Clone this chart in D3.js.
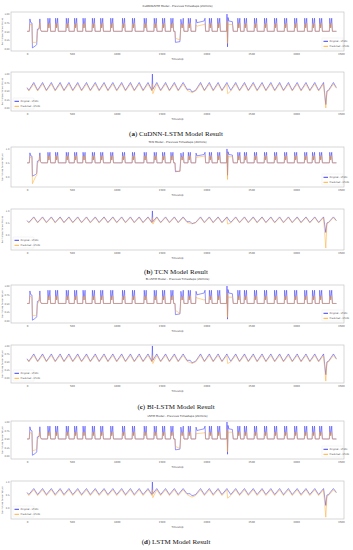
<!DOCTYPE html>
<html>
<head>
<meta charset="utf-8">
<script src="https://cdn.jsdelivr.net/npm/d3@7"></script>
<style>
  body { margin: 0; background: #fff; }
  svg { display: block; }
</style>
</head>
<body>
<svg id="chart" width="353" height="550"></svg>
<script>
// ---- data ----
var titles = ["CuDNNLSTM Model - Previous Timesteps (20mins)", "TCN Model - Previous Timesteps (20mins)",
              "Bi-LSTM Model - Previous Timesteps (20mins)", "LSTM Model - Previous Timesteps (20mins)"];
var captionTags = ["a", "b", "c", "d"];
var captionNames = ["CuDNN-LSTM Model Result", "TCN Model Result", "BI-LSTM Model Result", "LSTM Model Result"];
var legendNames = ["Original - LT101", "Predicted - LT101"];
var xTicks = [0, 500, 1000, 1500, 2000, 2500, 3000, 3500];
var yTicksFine = [0, 0.25, 0.5, 0.75, 1];
var yTicksCoarse = [0, 0.5, 1];

// upper panels: vertices of the sensor trace (one row per pump cycle)
var topSteps = [
  0, 25, 32, 40, 55, 60, 95, 108, 115, 135, 143, 150, 160,
  229, 233, 243, 255, 263,
  315, 319, 329, 341, 349,
  434, 438, 448, 460, 468,
  527, 531, 541, 553, 561,
  621, 625, 635, 647, 655,
  725, 729, 739, 751, 759,
  818, 822, 832, 844, 852,
  930, 934, 944, 956, 964,
  1061, 1065, 1075, 1087, 1095,
  1172, 1176, 1186, 1198, 1206,
  1303, 1307, 1317, 1329, 1337,
  1415, 1419, 1429, 1441, 1449,
  1508, 1512, 1522, 1534, 1542,
  1601, 1605, 1615, 1627, 1635,
  1650, 1655, 1705, 1712, 1716, 1730, 1742, 1750,
  1795, 1799, 1809, 1821, 1829,
  1880, 1885, 1895, 1975, 1985, 1992,
  2030, 2034, 2044, 2056, 2064,
  2123, 2127, 2137, 2149, 2157,
  2225, 2230, 2236, 2242, 2250, 2290, 2300,
  2347, 2351, 2361, 2373, 2381,
  2421, 2425, 2435, 2447, 2455,
  2533, 2537, 2547, 2559, 2567,
  2645, 2649, 2659, 2671, 2679,
  2757, 2761, 2771, 2783, 2791,
  2869, 2873, 2883, 2895, 2903,
  2981, 2985, 2995, 3007, 3015,
  3093, 3097, 3107, 3119, 3127,
  3180, 3184, 3194, 3206, 3214,
  3260, 3264, 3274, 3286, 3294,
  3372, 3376, 3386, 3398, 3406,
  3451
];
var topOriginal = [
  .50, .50, .86, .76, .74, .02, .08, .12, .56, .58, .86, .55, .50,
  .50, .88, .60, .88, .50,
  .50, .88, .60, .88, .50,
  .50, .88, .60, .88, .50,
  .50, .88, .60, .88, .50,
  .50, .88, .60, .88, .50,
  .50, .88, .60, .88, .50,
  .50, .88, .60, .88, .50,
  .50, .88, .60, .88, .50,
  .50, .88, .60, .88, .50,
  .50, .88, .60, .88, .50,
  .50, .88, .60, .88, .50,
  .50, .88, .60, .88, .50,
  .50, .88, .60, .88, .50,
  .50, .88, .60, .88, .50,
  .50, .18, .20, .55, .85, .60, .88, .50,
  .50, .88, .60, .88, .50,
  .50, .85, .75, .80, .88, .50,
  .50, .88, .60, .88, .50,
  .50, .88, .60, .88, .50,
  .50, 1.0, .05, .90, .80, .78, .50,
  .50, .88, .60, .88, .50,
  .50, .88, .60, .88, .50,
  .50, .88, .60, .88, .50,
  .50, .88, .60, .88, .50,
  .50, .88, .60, .88, .50,
  .50, .88, .60, .88, .50,
  .50, .88, .60, .88, .50,
  .50, .88, .60, .88, .50,
  .50, .88, .60, .88, .50,
  .50, .88, .60, .88, .50,
  .50, .88, .60, .88, .50,
  .50
];
var topCudnn = [
  .50, .50, .70, .70, .70, .18, .18, .20, .50, .58, .75, .55, .50,
  .50, .72, .60, .74, .50,
  .50, .72, .60, .74, .50,
  .50, .72, .60, .74, .50,
  .50, .72, .60, .74, .50,
  .50, .72, .60, .74, .50,
  .50, .72, .60, .74, .50,
  .50, .72, .60, .74, .50,
  .50, .72, .60, .74, .50,
  .50, .72, .60, .74, .50,
  .50, .72, .60, .74, .50,
  .50, .72, .60, .74, .50,
  .50, .72, .60, .74, .50,
  .50, .72, .60, .74, .50,
  .50, .72, .60, .74, .50,
  .50, .30, .25, .45, .70, .60, .72, .50,
  .50, .72, .60, .74, .50,
  .50, .68, .65, .70, .72, .50,
  .50, .72, .60, .74, .50,
  .50, .72, .60, .74, .50,
  .50, .80, .15, .72, .70, .70, .50,
  .50, .72, .60, .74, .50,
  .50, .72, .60, .74, .50,
  .50, .72, .60, .74, .50,
  .50, .72, .60, .74, .50,
  .50, .72, .60, .74, .50,
  .50, .72, .60, .74, .50,
  .50, .72, .60, .74, .50,
  .50, .72, .60, .74, .50,
  .50, .72, .60, .74, .50,
  .50, .72, .60, .74, .50,
  .50, .72, .60, .74, .50,
  .50
];
var topTcn = [
  .50, .50, .72, .70, .68, -.25, .00, .05, .48, .56, .76, .55, .50,
  .50, .75, .60, .76, .50,
  .50, .75, .60, .76, .50,
  .50, .75, .60, .76, .50,
  .50, .75, .60, .76, .50,
  .50, .75, .60, .76, .50,
  .50, .75, .60, .76, .50,
  .50, .75, .60, .76, .50,
  .50, .75, .60, .76, .50,
  .50, .75, .60, .76, .50,
  .50, .75, .60, .76, .50,
  .50, .75, .60, .76, .50,
  .50, .75, .60, .76, .50,
  .50, .75, .60, .76, .50,
  .50, .75, .60, .76, .50,
  .50, .22, .18, .45, .72, .60, .74, .50,
  .50, .75, .60, .76, .50,
  .50, .70, .70, .74, .76, .50,
  .50, .75, .60, .76, .50,
  .50, .75, .60, .76, .50,
  .50, .85, -.10, .74, .72, .72, .50,
  .50, .75, .60, .76, .50,
  .50, .75, .60, .76, .50,
  .50, .75, .60, .76, .50,
  .50, .75, .60, .76, .50,
  .50, .75, .60, .76, .50,
  .50, .75, .60, .76, .50,
  .50, .75, .60, .76, .50,
  .50, .75, .60, .76, .50,
  .50, .75, .60, .76, .50,
  .50, .75, .60, .76, .50,
  .50, .75, .60, .76, .50,
  .50
];
var topBilstm = [
  .50, .50, .72, .70, .66, .15, .15, .18, .48, .56, .74, .55, .50,
  .50, .70, .60, .72, .50,
  .50, .70, .60, .72, .50,
  .50, .70, .60, .72, .50,
  .50, .70, .60, .72, .50,
  .50, .70, .60, .72, .50,
  .50, .70, .60, .72, .50,
  .50, .70, .60, .72, .50,
  .50, .70, .60, .72, .50,
  .50, .70, .60, .72, .50,
  .50, .70, .60, .72, .50,
  .50, .70, .60, .72, .50,
  .50, .70, .60, .72, .50,
  .50, .70, .60, .72, .50,
  .50, .70, .60, .72, .50,
  .50, .30, .22, .42, .68, .60, .70, .50,
  .50, .70, .60, .72, .50,
  .50, .68, .66, .60, .62, .50,
  .50, .70, .60, .72, .50,
  .50, .70, .60, .72, .50,
  .50, .80, .10, .70, .68, .68, .50,
  .50, .70, .60, .72, .50,
  .50, .70, .60, .72, .50,
  .50, .70, .60, .72, .50,
  .50, .70, .60, .72, .50,
  .50, .70, .60, .72, .50,
  .50, .70, .60, .72, .50,
  .50, .70, .60, .72, .50,
  .50, .70, .60, .72, .50,
  .50, .70, .60, .72, .50,
  .50, .70, .60, .72, .50,
  .50, .70, .60, .72, .50,
  .50
];
var topLstm = [
  .50, .50, .70, .68, .66, .15, .18, .20, .48, .56, .72, .55, .50,
  .50, .70, .60, .70, .50,
  .50, .70, .60, .70, .50,
  .50, .70, .60, .70, .50,
  .50, .70, .60, .70, .50,
  .50, .70, .60, .70, .50,
  .50, .70, .60, .70, .50,
  .50, .70, .60, .70, .50,
  .50, .70, .60, .70, .50,
  .50, .70, .60, .70, .50,
  .50, .70, .60, .70, .50,
  .50, .70, .60, .70, .50,
  .50, .70, .60, .70, .50,
  .50, .70, .60, .70, .50,
  .50, .70, .60, .70, .50,
  .50, .28, .22, .42, .68, .60, .70, .50,
  .50, .70, .60, .70, .50,
  .50, .66, .66, .68, .70, .50,
  .50, .70, .60, .70, .50,
  .50, .70, .60, .70, .50,
  .50, .78, .12, .70, .70, .70, .50,
  .50, .70, .60, .70, .50,
  .50, .70, .60, .70, .50,
  .50, .70, .60, .70, .50,
  .50, .70, .60, .70, .50,
  .50, .70, .60, .70, .50,
  .50, .70, .60, .70, .50,
  .50, .70, .60, .70, .50,
  .50, .70, .60, .70, .50,
  .50, .70, .60, .70, .50,
  .50, .70, .60, .70, .50,
  .50, .70, .60, .70, .50,
  .50
];

// lower panels: tank level, one row per fill/drain tooth (trough, crest)
var botSteps = [
  0, 20, 75,
  118, 173,
  216, 271,
  314, 369,
  412, 467,
  510, 565,
  608, 663,
  706, 761,
  804, 859,
  902, 957,
  1000, 1055,
  1098, 1153,
  1196, 1251,
  1294, 1349,
  1392, 1398, 1403, 1447,
  1490, 1545,
  1588, 1643,
  1686, 1741,
  1784, 1820, 1840,
  1880, 1935,
  1978, 2033,
  2076, 2131,
  2174, 2229, 2237,
  2272, 2327,
  2370, 2425,
  2468, 2523,
  2566, 2621,
  2664, 2719,
  2762, 2817,
  2860, 2915,
  2958, 3013,
  3056, 3111,
  3154, 3209,
  3252, 3307, 3332, 3345,
  3362, 3417,
  3450
];
var botOriginal = [
  .60, .52, .75,
  .52, .75,
  .52, .75,
  .52, .75,
  .52, .75,
  .52, .75,
  .52, .75,
  .52, .75,
  .52, .75,
  .52, .75,
  .52, .75,
  .52, .75,
  .52, .75,
  .52, .75,
  .52, 1.0, .55, .75,
  .52, .75,
  .52, .75,
  .52, .75,
  .55, .55, .47,
  .52, .75,
  .52, .75,
  .52, .75,
  .52, .75, .70,
  .52, .75,
  .52, .75,
  .52, .75,
  .52, .75,
  .52, .75,
  .52, .75,
  .52, .75,
  .52, .75,
  .52, .75,
  .52, .75,
  .52, .75, .10, .50,
  .52, .75,
  .60
];
var botCudnn = [
  .58, .50, .70,
  .50, .70,
  .50, .70,
  .50, .70,
  .50, .70,
  .50, .70,
  .50, .70,
  .50, .70,
  .50, .70,
  .50, .70,
  .50, .70,
  .50, .70,
  .50, .70,
  .50, .70,
  .50, .70, .42, .70,
  .50, .70,
  .50, .70,
  .50, .70,
  .52, .48, .45,
  .50, .70,
  .50, .70,
  .50, .70,
  .50, .70, .42,
  .50, .70,
  .50, .70,
  .50, .70,
  .50, .70,
  .50, .70,
  .50, .70,
  .50, .70,
  .50, .70,
  .50, .70,
  .50, .70,
  .50, .70, .00, .48,
  .50, .70,
  .58
];
var botTcn = [
  .58, .50, .72,
  .50, .72,
  .50, .72,
  .50, .72,
  .50, .72,
  .50, .72,
  .50, .72,
  .50, .72,
  .50, .72,
  .50, .72,
  .50, .72,
  .50, .72,
  .50, .72,
  .50, .72,
  .50, .72, .45, .72,
  .50, .72,
  .50, .72,
  .50, .72,
  .52, .48, .46,
  .50, .72,
  .50, .72,
  .50, .72,
  .50, .72, .45,
  .50, .72,
  .50, .72,
  .50, .72,
  .50, .72,
  .50, .72,
  .50, .72,
  .50, .72,
  .50, .72,
  .50, .72,
  .50, .72,
  .50, .72, -.55, .48,
  .50, .72,
  .58
];
var botBilstm = [
  .58, .50, .70,
  .50, .70,
  .50, .70,
  .50, .70,
  .50, .70,
  .50, .70,
  .50, .70,
  .50, .70,
  .50, .70,
  .50, .70,
  .50, .70,
  .50, .70,
  .50, .70,
  .50, .70,
  .50, .70, .45, .70,
  .50, .70,
  .50, .70,
  .50, .70,
  .52, .48, .45,
  .50, .70,
  .50, .70,
  .50, .70,
  .50, .70, .45,
  .50, .70,
  .50, .70,
  .50, .70,
  .50, .70,
  .50, .70,
  .50, .70,
  .50, .70,
  .50, .70,
  .50, .70,
  .50, .70,
  .50, .70, -.10, .48,
  .50, .70,
  .58
];
var botLstm = [
  .58, .48, .70,
  .48, .70,
  .48, .70,
  .48, .70,
  .48, .70,
  .48, .70,
  .48, .70,
  .48, .70,
  .48, .70,
  .48, .70,
  .48, .70,
  .48, .70,
  .48, .70,
  .48, .70,
  .48, .70, .40, .70,
  .48, .70,
  .48, .70,
  .48, .70,
  .52, .45, .42,
  .48, .70,
  .48, .70,
  .48, .70,
  .48, .70, .38,
  .48, .70,
  .48, .70,
  .48, .70,
  .48, .70,
  .48, .70,
  .48, .70,
  .48, .70,
  .48, .70,
  .48, .70,
  .48, .70,
  .48, .70, -.35, .46,
  .48, .70,
  .58
];

// ---- layout ----
var panels = [
  { top: [12, 51, -0.07, 1.06, yTicksFine], bot: [72, 111, -0.09, 1.06, yTicksFine],
    titleY: 7, captionY: 136, topPred: topCudnn, botPred: botCudnn },
  { top: [147, 187, -0.37, 1.07, yTicksCoarse], bot: [209, 250, -0.63, 1.08, yTicksCoarse],
    titleY: 143, captionY: 274, topPred: topTcn, botPred: botTcn },
  { top: [285, 323, -0.06, 1.03, yTicksFine], bot: [345, 383, -0.16, 1.03, yTicksFine],
    titleY: 280, captionY: 409, topPred: topBilstm, botPred: botBilstm },
  { top: [421, 459, -0.09, 1.03, yTicksFine], bot: [481, 519, -0.42, 1.04, yTicksCoarse],
    titleY: 417, captionY: 544, topPred: topLstm, botPred: botLstm }
];
var left = 11, right = 344;
var blue = "#2a2aff", orange = "#ffa726";

var svg = d3.select("#chart");
var x = d3.scaleLinear().domain([-179, 3535]).range([left, right]);

function subplot(frame, steps, orig, pred, legendLeft) {
  var y = d3.scaleLinear().domain([frame[2], frame[3]]).range([frame[1], frame[0]]);
  var g = svg.append("g");

  g.append("rect")
      .attr("x", left).attr("y", frame[0])
      .attr("width", right - left).attr("height", frame[1] - frame[0])
      .attr("fill", "#fff").attr("stroke", "#bdbdbd").attr("stroke-width", 0.6);

  var xAxis = d3.axisBottom(x).tickValues(xTicks).tickSize(0).tickPadding(2.5)
      .tickFormat(d3.format("d"));
  g.append("g").attr("transform", "translate(0," + frame[1] + ")").call(xAxis)
      .call(a => a.select(".domain").remove())
      .selectAll("text").attr("font-size", 2.6).attr("fill", "#555").attr("font-family", "DejaVu Sans");

  var yAxis = d3.axisLeft(y).tickValues(frame[4]).tickSize(0).tickPadding(1.5)
      .tickFormat(frame[4].length > 3 ? d3.format(".2f") : d3.format(".1f"));
  g.append("g").attr("transform", "translate(" + left + ",0)").call(yAxis)
      .call(a => a.select(".domain").remove())
      .selectAll("text").attr("font-size", 2.3).attr("fill", "#555").attr("font-family", "DejaVu Sans");

  g.append("text")
      .attr("transform", "translate(2.8," + (frame[0] + frame[1]) / 2 + ") rotate(-90)")
      .attr("text-anchor", "middle").attr("font-size", 2.1).attr("fill", "#444")
      .attr("font-family", "DejaVu Sans").text("Normalised Sensor Values");

  g.append("text")
      .attr("x", (left + right) / 2).attr("y", frame[1] + 9)
      .attr("text-anchor", "middle").attr("font-size", 2.6).attr("fill", "#444")
      .attr("font-family", "DejaVu Sans").text("Timestep");

  var clip = "clip" + frame[0];
  g.append("clipPath").attr("id", clip).append("rect")
      .attr("x", left).attr("y", frame[0]).attr("width", right - left).attr("height", frame[1] - frame[0]);

  var line = function(vals) {
    return d3.line()
        .defined((d, i) => vals[i] !== undefined)
        .x(d => x(d))
        .y((d, i) => y(vals[i]))(steps);
  };
  g.append("path").attr("d", line(orig)).attr("clip-path", "url(#" + clip + ")")
      .attr("fill", "none").attr("stroke", blue).attr("stroke-width", 0.5);
  g.append("path").attr("d", line(pred)).attr("clip-path", "url(#" + clip + ")")
      .attr("fill", "none").attr("stroke", orange).attr("stroke-width", 0.5);

  // legend
  var lx = legendLeft ? left + 2 : right - 22, ly = frame[1] - 13;
  var lg = g.append("g").attr("transform", "translate(" + lx + "," + ly + ")");
  lg.append("rect").attr("width", 21).attr("height", 11).attr("rx", 0.8)
      .attr("fill", "#fff").attr("fill-opacity", 0.8).attr("stroke", "#ddd").attr("stroke-width", 0.3);
  [blue, orange].forEach(function(c, i) {
    lg.append("line").attr("x1", 1.5).attr("x2", 6).attr("y1", 3.3 + i * 5).attr("y2", 3.3 + i * 5)
        .attr("stroke", c).attr("stroke-width", 0.9);
    lg.append("text").attr("x", 7.5).attr("y", 4.2 + i * 5).attr("font-size", 2.3).attr("fill", "#444")
        .attr("font-family", "DejaVu Sans").text(legendNames[i]);
  });
}

panels.forEach(function(p, i) {
  svg.append("text")
      .attr("x", (left + right) / 2).attr("y", p.titleY)
      .attr("text-anchor", "middle").attr("font-size", 2.8).attr("fill", "#333")
      .attr("font-family", "DejaVu Sans").text(titles[i]);

  subplot(p.top, topSteps, topOriginal, p.topPred, false);
  subplot(p.bot, botSteps, botOriginal, p.botPred, true);

  var cap = svg.append("text")
      .attr("x", 176).attr("y", p.captionY)
      .attr("text-anchor", "middle").attr("font-size", 7).attr("fill", "#111")
      .attr("font-family", "Liberation Serif");
  cap.append("tspan").text("(");
  cap.append("tspan").attr("font-weight", "bold").text(captionTags[i]);
  cap.append("tspan").text(") " + captionNames[i]);
});
</script>
</body>
</html>
